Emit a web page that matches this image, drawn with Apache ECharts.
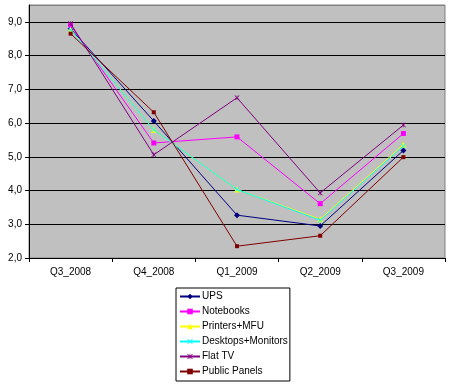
<!DOCTYPE html>
<html><head><meta charset="utf-8">
<script src="https://cdn.jsdelivr.net/npm/echarts@6/dist/echarts.min.js"></script>
<style>html,body{margin:0;padding:0;background:#fff}#c{width:452px;height:390px}</style>
</head><body><div id="c"></div>
<script>
const categories = ['Q3_2008','Q4_2008','Q1_2009','Q2_2009','Q3_2009'];
const ups = [8.80, 6.06, 3.27, 2.95, 5.19];
const notebooks = [8.90, 5.41, 5.59, 3.61, 5.69];
const printers = [8.77, 5.80, 4.03, 3.15, 5.36];
const desktops = [8.77, 5.80, 4.03, 3.12, 5.32];
const flatTV = [8.95, 5.06, 6.75, 3.93, 5.94];
const publicPanels = [8.65, 6.32, 2.35, 2.66, 4.99];
const seriesNames = ['UPS','Notebooks','Printers+MFU','Desktops+Monitors','Flat TV','Public Panels'];

const xSym = 'path://M0,1L1,0L5,4L9,0L10,1L6,5L10,9L9,10L5,6L1,10L0,9L4,5Z';
const starSym = 'path://M0,1L1,0L4.5,3.5L4.5,0L5.5,0L5.5,3.5L9,0L10,1L6,5L10,9L9,10L5.5,6.5L5.5,10L4.5,10L4.5,6.5L1,10L0,9L4,5Z';
const defs = [
  {data: ups, color: '#000080', symbol: 'diamond', size: 6},
  {data: notebooks, color: '#FF00FF', symbol: 'rect', size: 5},
  {data: printers, color: '#FFFF00', symbol: 'triangle', size: 6},
  {data: desktops, color: '#00FFFF', symbol: xSym, size: 5},
  {data: flatTV, color: '#800080', symbol: starSym, size: 5},
  {data: publicPanels, color: '#800000', symbol: 'rect', size: 4}
];
const chart = echarts.init(document.getElementById('c'), null, {renderer: 'canvas'});
const font = 'Liberation Sans, Arial, sans-serif';
chart.setOption({
  animation: false,
  backgroundColor: '#fff',
  grid: {left: 29, right: 7, top: 5, bottom: 132, show: true, backgroundColor: '#C0C0C0', borderColor: '#808080', borderWidth: 1},
  xAxis: {
    type: 'category', data: categories, boundaryGap: true,
    axisLine: {lineStyle: {color: '#000', width: 1}},
    axisTick: {show: true, length: 4, lineStyle: {color: '#000'}},
    axisLabel: {color: '#000', fontFamily: font, fontSize: 10, margin: 9}
  },
  yAxis: {
    type: 'value', min: 2, max: 9.5, interval: 1,
    axisLine: {show: true, lineStyle: {color: '#000', width: 1}},
    axisTick: {show: true, length: 4, lineStyle: {color: '#000'}},
    axisLabel: {color: '#000', fontFamily: font, fontSize: 10, margin: 7, showMaxLabel: false,
      formatter: v => v.toFixed(1).replace('.', ',')},
    splitLine: {show: true, lineStyle: {color: ['#000','#000','#000','#000','#000','#000','#000','#000','#808080'], width: 1}}
  },
  legend: {
    orient: 'vertical', left: 176, top: 288,
    itemWidth: 20, itemHeight: 7, itemGap: 4,
    padding: [3, 2, 4, 3],
    backgroundColor: '#fff', borderColor: '#000', borderWidth: 1,
    textStyle: {color: '#000', fontFamily: font, fontSize: 10, lineHeight: 11, padding: [0,0,0,-3]},
    data: seriesNames
  },
  series: defs.map((d, i) => ({
    name: seriesNames[i], type: 'line', data: d.data,
    symbol: d.symbol, symbolSize: d.size, showAllSymbol: true,
    lineStyle: {color: d.color, width: 1},
    itemStyle: {color: d.color, borderWidth: 0},
    z: 2 + i
  }))
});
</script></body></html>
